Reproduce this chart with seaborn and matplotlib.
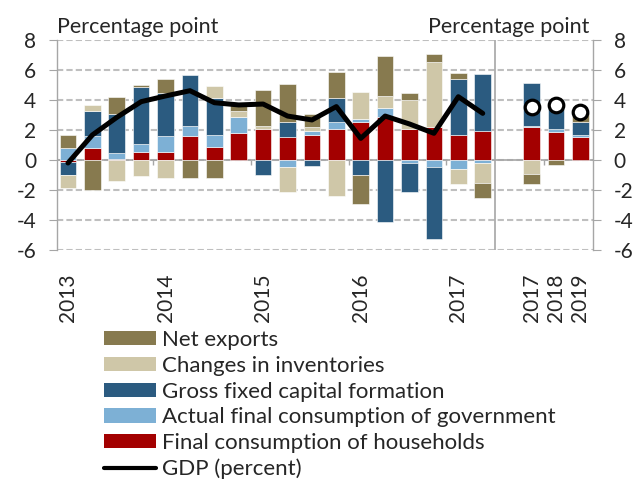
import numpy as np
import matplotlib
matplotlib.use('Agg')
import matplotlib.pyplot as plt
from matplotlib.patches import Patch
from matplotlib.lines import Line2D
import seaborn as sns

# 2013Q1 - 2017Q2 quarterly, then annual 2017, 2018, 2019
quarter_pos = list(range(18))
annual_pos = [19, 20, 21]

households = [-0.15, 0.78, 0.10, 0.56, 0.56, 1.60, 0.89, 1.78, 2.07, 1.51, 1.67, 2.07,
              2.56, 2.89, 2.07, 2.22, 1.67, 1.96,
              2.22, 1.89, 1.51]
government = [0.78, 0.82, 0.38, 0.51, 1.04, 0.67, 0.78, 1.07, 0.0, -0.44, 0.29, 0.49,
              0.18, 0.56, -0.22, -0.49, -0.60, -0.18,
              0.05, 0.16, 0.16]
gfcf = [-0.82, 1.67, 2.62, 3.82, 2.84, 3.40, 2.44, 0.0, -1.00, 1.04, -0.40, 1.60,
        -1.00, -4.10, -1.89, -4.80, 3.71, 3.76,
        2.89, 1.95, 0.89]
inventories = [-0.89, 0.40, -1.38, -1.07, -1.18, 0.0, 0.82, 0.42, 0.20, -1.67, 0.24, -2.38,
               1.76, 0.84, 1.93, 4.33, -1.00, -1.38,
               -0.93, 0.0, 0.0]
net_exports = [0.89, -2.00, 1.07, 0.08, 0.93, -1.18, -1.18, 0.51, 2.40, 2.51, 0.84, 1.69,
               -1.96, 2.67, 0.47, 0.49, 0.40, -1.00,
               -0.67, -0.33, 0.55]
gdp_quarterly = [-0.20, 1.67, 2.84, 3.89, 4.27, 4.62, 3.82, 3.67, 3.73, 2.93, 2.67, 3.56,
                 1.44, 2.93, 2.40, 1.78, 4.22, 3.11]
gdp_annual = [3.51, 3.67, 3.22]

tick_pos = [0, 4, 8, 12, 16, 19, 20, 21]
tick_labels = ['2013', '2014', '2015', '2016', '2017', '2017', '2018', '2019']

components = [
    ('Final consumption of households', '#A30000', households),
    ('Actual final consumption of government', '#7DB0D5', government),
    ('Gross fixed capital formation', '#2B5B80', gfcf),
    ('Changes in inventories', '#CFC7A8', inventories),
    ('Net exports', '#877A4F', net_exports),
]

sns.set_style('white')
plt.rcParams['font.family'] = ['Lato', 'DejaVu Sans']
plt.rcParams['axes.unicode_minus'] = False
grey = '#A6A6A6'

fig = plt.figure(figsize=(6.36, 4.79), dpi=100)
ax = fig.add_axes([57 / 636, 1 - 250 / 479, 536 / 636, 210 / 479])

x = np.array(quarter_pos + annual_pos)
pos_base = np.zeros(len(x))
neg_base = np.zeros(len(x))
for name, color, vals in components:
    v = np.array(vals, dtype=float)
    bottom = np.where(v >= 0, pos_base, neg_base)
    mask = v != 0
    sns.barplot(x=x[mask], y=v[mask], bottom=bottom[mask], native_scale=True,
                width=0.68, color=color, saturation=1, errorbar=None,
                edgecolor='white', linewidth=0.4, zorder=2, ax=ax)
    pos_base += np.clip(v, 0, None)
    neg_base += np.clip(v, None, 0)

sns.lineplot(x=quarter_pos, y=gdp_quarterly, color='black', linewidth=3.6,
             zorder=4, ax=ax)
sns.scatterplot(x=annual_pos, y=gdp_annual, s=110, color='white', edgecolor='black',
                linewidth=2.3, zorder=5, ax=ax)

# axes styling
ax.set_xlim(-0.45, 21.52)
ax.set_ylim(-6, 8)
ax.set_yticks(range(-6, 9, 2))
ax.yaxis.grid(True, color='#BFBFBF', linestyle=(0, (3, 1.5)), linewidth=1.5)
ax.set_axisbelow(True)
ax.axhline(0, color=grey, linewidth=1.2, zorder=1.5)
ax.axvline(17.5, color=grey, linewidth=1.2, zorder=1.5)
ax.vlines([3.5, 7.5, 11.5, 15.5, 19.5], -0.3, 0, color=grey, linewidth=1, zorder=1.5)

for side in ['top', 'bottom']:
    ax.spines[side].set_visible(False)
for side in ['left', 'right']:
    ax.spines[side].set_color(grey)
    ax.spines[side].set_linewidth(1)

ax.tick_params(axis='y', length=6, color=grey, labelsize=15, pad=9,
               left=True, right=True, labelleft=True, labelright=True)
ax.set_xticks(tick_pos)
ax.set_xticklabels(tick_labels, rotation=90)
ax.tick_params(axis='x', length=0, labelsize=15, pad=17)
ax.set_xlabel('')
ax.set_ylabel('')

fig.text(57 / 636, 1 - 33 / 479, 'Percentage point', fontsize=15.5, va='baseline', ha='left')
fig.text(589 / 636, 1 - 33 / 479, 'Percentage point', fontsize=15.5, va='baseline', ha='right')

handles = [Patch(facecolor=c, edgecolor='none') for _, c, _ in components[::-1]]
labels = [n for n, _, _ in components[::-1]]
handles.append(Line2D([0], [0], color='black', linewidth=3))
labels.append('GDP (percent)')
fig.legend(handles, labels, loc='upper left', bbox_to_anchor=(104 / 636, 1 - 330 / 479),
           frameon=False, fontsize=16, handlelength=2.35, handleheight=0.6,
           handletextpad=0.27, labelspacing=0.26, borderpad=0, borderaxespad=0)

fig.savefig('out.png', dpi=100)
